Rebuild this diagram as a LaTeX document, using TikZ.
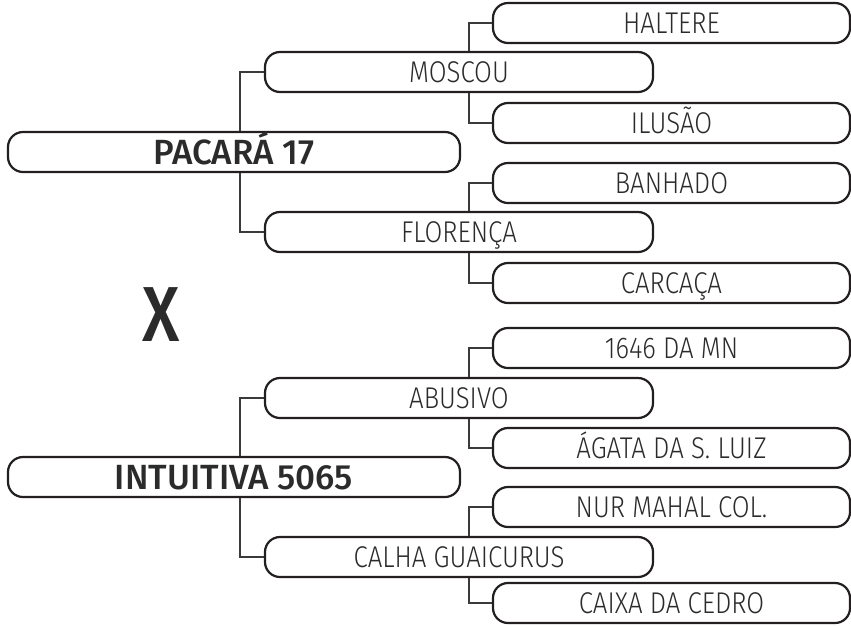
\documentclass[tikz,border=0pt]{standalone}
\usepackage{fontspec}
\IfFontExistsTF{Fira Sans Book}{\newfontfamily\lightf{Fira Sans Book}[FakeStretch=0.86]}{%
  \IfFontExistsTF{Fira Sans Light}{\newfontfamily\lightf{Fira Sans Light}[FakeStretch=0.86]}{\newfontfamily\lightf{Fira Sans}[FakeStretch=0.86]}}
\IfFontExistsTF{Fira Sans Medium}{\newfontfamily\boldf{Fira Sans Medium}}{%
  \IfFontExistsTF{Fira Sans SemiBold}{\newfontfamily\boldf{Fira Sans SemiBold}}{\newfontfamily\boldf{Fira Sans}[UprightFont={* Bold}]}}
\definecolor{boxline}{HTML}{231F20}
\definecolor{txt}{HTML}{2B2B2B}
\definecolor{conline}{HTML}{3A3A3A}
\tikzset{
  pbox/.style={draw=boxline, line width=2.2pt, rounded corners=15pt, minimum height=40pt,
    inner sep=0pt, text=txt, text depth=0pt},
  lvzero/.style={pbox, minimum width=452pt, font=\boldf\fontsize{35}{35}\selectfont, text height=24pt},
  lvone/.style={pbox, minimum width=388pt, font=\lightf\fontsize{30}{30}\selectfont, text height=20.5pt},
  lvtwo/.style={pbox, minimum width=357pt, font=\lightf\fontsize{30}{30}\selectfont, text height=20.5pt},
  conn/.style={draw=conline, line width=1.3pt}
}
\begin{document}
\begin{tikzpicture}[x=1pt,y=-1pt]
\useasboundingbox (0,0) rectangle (851,625);
% top family
\node[lvzero] (r1) at (234,152) {PACARÁ 17};
\node[lvone] (m1) at (459,72) {MOSCOU};
\node[lvone] (f1) at (459,232) {FLORENÇA};
\node[lvtwo] (a1) at (671.5,23) {HALTERE};
\node[lvtwo] (a2) at (671.5,123) {ILUSÃO};
\node[lvtwo] (a3) at (671.5,183) {BANHADO};
\node[lvtwo] (a4) at (671.5,283) {CARCAÇA};
% bottom family
\node[lvzero] (r2) at (234,477) {INTUITIVA 5065};
\node[lvone] (m2) at (459,398) {ABUSIVO};
\node[lvone] (f2) at (459,557) {CALHA GUAICURUS};
\node[lvtwo] (b1) at (671.5,348) {1646 DA MN};
\node[lvtwo] (b2) at (671.5,448) {ÁGATA DA S. LUIZ};
\node[lvtwo] (b3) at (671.5,507) {NUR MAHAL COL.};
\node[lvtwo] (b4) at (671.5,603) {CAIXA DA CEDRO};
% cross sign
\node[font=\boldf\fontsize{78}{78}\selectfont, text=txt, inner sep=0pt, xscale=0.85] (x) at (161,315) {X};
% connectors
\draw[conn] ([xshift=6pt]r1.north) |- (m1.west);
\draw[conn] ([xshift=6pt]r1.south) |- (f1.west);
\draw[conn] ([xshift=10pt]m1.north) |- (a1.west);
\draw[conn] ([xshift=10pt]m1.south) |- (a2.west);
\draw[conn] ([xshift=10pt]f1.north) |- (a3.west);
\draw[conn] ([xshift=10pt]f1.south) |- (a4.west);
\draw[conn] ([xshift=6pt]r2.north) |- (m2.west);
\draw[conn] ([xshift=6pt]r2.south) |- (f2.west);
\draw[conn] ([xshift=10pt]m2.north) |- (b1.west);
\draw[conn] ([xshift=10pt]m2.south) |- (b2.west);
\draw[conn] ([xshift=10pt]f2.north) |- (b3.west);
\draw[conn] ([xshift=10pt]f2.south) |- (b4.west);
\end{tikzpicture}
\end{document}
